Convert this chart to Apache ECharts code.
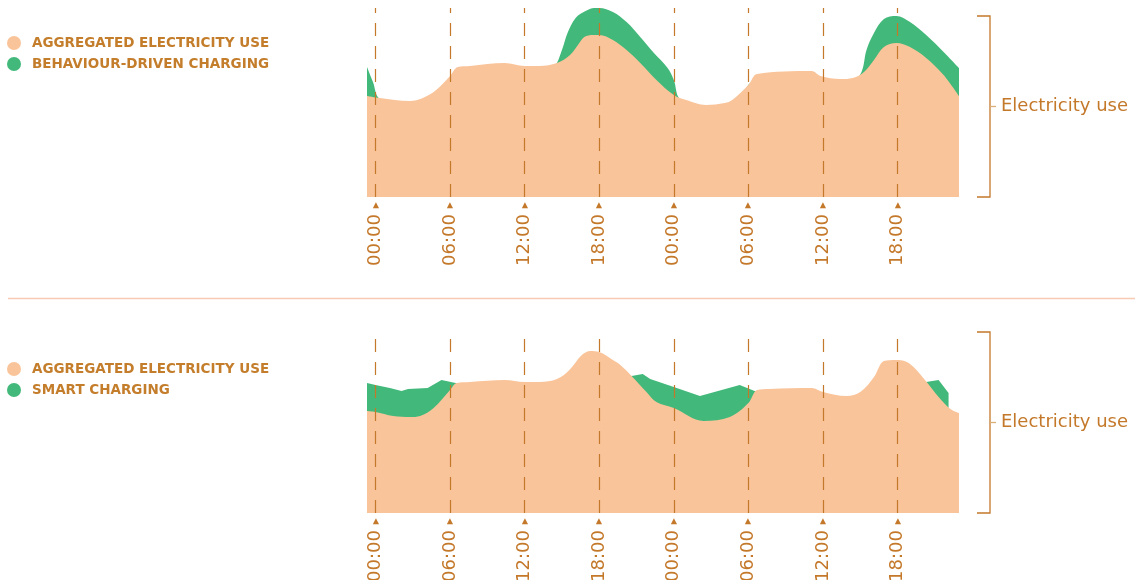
<!DOCTYPE html>
<html>
<head>
<meta charset="utf-8">
<title>Electricity use and EV charging</title>
<script src="https://cdn.jsdelivr.net/npm/echarts@6/dist/echarts.min.js"></script>
<style>
  html, body { margin: 0; padding: 0; background: #fff; }
  #chart { width: 1135px; height: 580px; }
</style>
</head>
<body>
<div id="chart"></div>
<script>
// hours from the first 00:00 line, values are relative electricity use
var hourMin = -0.68, hourMax = 46.94;
var tickHours = [0, 6, 12, 18, 24, 30, 36, 42];
var tickLabels = ['00:00', '06:00', '12:00', '18:00', '00:00', '06:00', '12:00', '18:00'];

var AGG = 'AGGREGATED ELECTRICITY USE';
var EV = 'BEHAVIOUR-DRIVEN CHARGING';
var SMART = 'SMART CHARGING';

// top panel
var topAggHours = [-0.68, 0.35, 2.76, 3.81, 4.88, 6.0, 6.62, 7.6, 10.4, 12.0, 13.2, 14.6, 15.65, 16.4, 16.8, 17.5, 18.0, 19.1, 20.2, 21.3, 22.6, 24.0, 25.0, 26.6, 28.1, 28.7, 30.0, 30.7, 35.1, 35.8, 37.4, 38.4, 39.3, 40.1, 40.9, 41.9, 43.0, 44.3, 45.7, 46.94];
var topAggValues = [101, 99, 96, 99, 107, 121, 130, 131, 134, 131, 131, 134, 142, 154, 160, 162, 162, 157, 147, 134, 117, 102, 97, 92, 94, 97, 112, 123, 126, 121, 118, 119, 125, 137, 150, 154, 150, 139, 122, 101];
var topEvHours = [-0.68, -0.2, 0.35, 2.8, 4.5, 6.0, 7.6, 10.4, 13.2, 14.4, 15.0, 15.45, 16.1, 16.9, 17.6, 18.0, 19.1, 20.2, 21.3, 22.4, 23.5, 24.0, 24.5, 26.6, 28.7, 30.7, 35.1, 37.4, 38.4, 39.1, 39.5, 40.1, 40.9, 41.9, 43.0, 44.3, 45.7, 46.94];
var topEvValues = [130, 115, 98, 90, 96, 112, 126, 129, 127, 131, 147, 164, 179, 186, 189, 189, 185, 175, 160, 144, 129, 117, 98, 88, 92, 118, 121, 113, 115, 125, 147, 164, 178, 181, 175, 162, 145, 129];

// bottom panel
var botAggHours = [-0.68, 0, 1.42, 2.79, 3.6, 4.68, 6.0, 6.53, 7.6, 10.4, 12.0, 13.2, 14.6, 15.6, 16.6, 17.3, 18.0, 19.1, 19.7, 20.6, 21.8, 22.6, 24.0, 26.4, 28.5, 30.0, 30.7, 31.7, 35.1, 36.0, 37.9, 39.0, 40.1, 40.9, 41.84, 42.9, 44.2, 45.3, 46.25, 46.94];
var botAggValues = [102, 101, 97, 96, 97, 105, 123, 130, 131, 133, 131, 131, 134, 143, 158, 162, 161, 153, 148, 137, 121, 111, 105, 92, 96, 110, 123, 124, 125, 121, 117, 121, 136, 152, 153, 150, 133, 116, 104, 100];
var botSmartHours = [-0.68, 0, 1.16, 2.1, 2.62, 4.2, 5.31, 6.45, 7.6, 10.4, 12.0, 14.6, 16.6, 18.0, 20.6, 21.5, 22.1, 24.0, 26.1, 29.3, 30.5, 31.7, 35.1, 36.0, 37.9, 39.0, 40.9, 42.0, 42.9, 44.3, 45.3, 46.1, 46.1];
var botSmartValues = [130, 128, 125, 122, 124, 125, 133, 130, 127, 129, 127, 130, 145, 150, 137, 139, 134, 126, 117, 128, 122, 120, 121, 117, 113, 117, 145, 148, 146, 131, 133, 120, 104];

var orange = '#fac49a';
var green = '#42b97a';
var brown = '#c4782a';

function pairs(hours, values) {
    return hours.map(function (h, i) { return [h, values[i]]; });
}

function xAxisFor(gi) {
    return {
        type: 'value', gridIndex: gi, min: hourMin, max: hourMax,
        axisLine: { show: false }, axisTick: { show: false }, splitLine: { show: false },
        axisLabel: {
            customValues: tickHours,
            rotate: 90,
            margin: 5,
            formatter: function (v) {
                return '{v|' + tickLabels[tickHours.indexOf(v)] + '}{t|▶}';
            },
            rich: {
                v: { fontSize: 18, color: brown, fontFamily: 'DejaVu Sans', verticalAlign: 'middle' },
                t: { fontSize: 8, color: brown, fontFamily: 'DejaVu Sans', padding: [0, 0, 0, 6], verticalAlign: 'middle' }
            }
        }
    };
}

var dashed = {
    silent: true,
    symbol: ['none', 'none'],
    label: { show: false },
    lineStyle: { color: brown, width: 1.2, type: [13, 10], opacity: 1 },
    data: tickHours.map(function (h) { return { xAxis: h }; })
};

function area(name, gi, data, color, smooth, withLines) {
    var s = {
        name: name, type: 'line', xAxisIndex: gi, yAxisIndex: gi,
        data: data, smooth: smooth,
        showSymbol: false, silent: true,
        lineStyle: { width: 0 },
        itemStyle: { color: color },
        areaStyle: { color: color, opacity: 1 }
    };
    if (withLines) s.markLine = dashed;
    return s;
}

var legendText = { color: '#c47d2b', fontSize: 13.5, fontWeight: 'bold', fontFamily: 'DejaVu Sans', padding: [0, 0, 0, 6] };

function bracket(top, bottom) {
    var mid = (top + bottom) / 2;
    return [
        { type: 'polyline', shape: { points: [[977, top], [990, top], [990, bottom], [977, bottom]] },
          style: { stroke: brown, fill: null, lineWidth: 1.3 } },
        { type: 'line', shape: { x1: 990, y1: mid, x2: 996, y2: mid }, style: { stroke: '#dcae7a', lineWidth: 1.3 } },
        { type: 'text', x: 1001, y: mid,
          style: { text: 'Electricity use', fill: brown, font: '500 18px "DejaVu Sans"', verticalAlign: 'middle' } }
    ];
}

var option = {
    animation: false,
    backgroundColor: '#fff',
    grid: [
        { left: 367, width: 592, top: 8, height: 189, outerBoundsMode: 'none' },
        { left: 367, width: 592, top: 332, height: 181, outerBoundsMode: 'none' }
    ],
    xAxis: [xAxisFor(0), xAxisFor(1)],
    yAxis: [
        { type: 'value', gridIndex: 0, min: 0, max: 189, show: false },
        { type: 'value', gridIndex: 1, min: 0, max: 181, show: false }
    ],
    legend: [
        { left: 7, top: 36, padding: 0, orient: 'vertical', icon: 'circle', itemWidth: 14, itemHeight: 14, itemGap: 7,
          selectedMode: false, data: [AGG, EV], textStyle: legendText },
        { left: 7, top: 362, padding: 0, orient: 'vertical', icon: 'circle', itemWidth: 14, itemHeight: 14, itemGap: 7,
          selectedMode: false, data: [AGG, SMART], textStyle: legendText }
    ],
    graphic: [
        { type: 'line', shape: { x1: 8, y1: 298.5, x2: 1135, y2: 298.5 }, style: { stroke: '#f8cab3', lineWidth: 1.5 } }
    ].concat(bracket(16, 197), bracket(332, 513)),
    series: [
        area(EV, 0, pairs(topEvHours, topEvValues), green, 0.35, false),
        area(AGG, 0, pairs(topAggHours, topAggValues), orange, 0.35, true),
        area(SMART, 1, pairs(botSmartHours, botSmartValues), green, false, false),
        area(AGG, 1, pairs(botAggHours, botAggValues), orange, 0.35, true)
    ]
};

var myChart = echarts.init(document.getElementById('chart'));
myChart.setOption(option);
</script>
</body>
</html>
